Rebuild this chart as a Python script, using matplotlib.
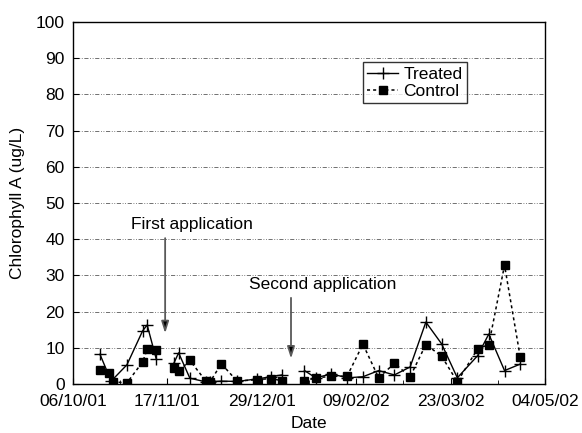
"""
Chlorophyll A in treated vs control ponds, Oct 2001 - May 2002.
"""

import numpy as np
import matplotlib
matplotlib.use("Agg")
import matplotlib.pyplot as plt
import matplotlib.dates as mdates

plt.rcParams['font.family'] = ['Liberation Sans', 'DejaVu Sans']

# sampling dates (blank entries = application days, no sample -> gap in line)
treated_dates = ['2001-10-18', '2001-10-23', '2001-10-30', '2001-11-06', '2001-11-08',
                 '2001-11-12', '2001-11-16', '2001-11-20', '2001-11-22', '2001-11-27',
                 '2001-12-04', '2001-12-06', '2001-12-11', '2001-12-18', '2001-12-27',
                 '2002-01-02', '2002-01-07', '2002-01-11', '2002-01-17', '2002-01-22',
                 '2002-01-29', '2002-02-05', '2002-02-12', '2002-02-19', '2002-02-26',
                 '2002-03-05', '2002-03-12', '2002-03-19', '2002-03-26', '2002-04-04',
                 '2002-04-09', '2002-04-16', '2002-04-23']
treated_vals = [8.2, 0.8, 5.3, 14.7, 16.3,
                7.0, np.nan, 5.9, 8.6, 1.6,
                0.6, 0.6, 0.8, 0.7, 1.4,
                2.0, 2.5, np.nan, 3.7, 1.7,
                2.8, 1.7, 2.0, 3.7, 2.5,
                4.7, 17.1, 11.1, 1.7, 7.8,
                13.8, 3.7, 5.5]

control_dates = ['2001-10-18', '2001-10-22', '2001-10-24', '2001-10-30', '2001-11-06',
                 '2001-11-08', '2001-11-12', '2001-11-16', '2001-11-20', '2001-11-22',
                 '2001-11-27', '2001-12-04', '2001-12-06', '2001-12-11', '2001-12-18',
                 '2001-12-27', '2002-01-02', '2002-01-07', '2002-01-11', '2002-01-17',
                 '2002-01-22', '2002-01-29', '2002-02-05', '2002-02-12', '2002-02-19',
                 '2002-02-26', '2002-03-05', '2002-03-12', '2002-03-19', '2002-03-26',
                 '2002-04-04', '2002-04-09', '2002-04-16', '2002-04-23']
control_vals = [3.9, 3.0, 0.6, 0.3, 6.1,
                9.6, 9.5, np.nan, 4.3, 3.5,
                6.5, 0.9, 0.6, 5.6, 0.8,
                1.2, 1.5, 0.9, np.nan, 0.8,
                1.7, 2.1, 2.2, 11.0, 1.7,
                5.7, 2.0, 10.9, 7.7, 0.6,
                9.7, 10.9, 32.8, 7.4]

tick_dates = ['2001-10-06', '2001-11-17', '2001-12-29', '2002-02-09', '2002-03-23', '2002-05-04']

# annotations: (label, arrow date, arrow top, arrow tip, text date, text y)
applications = [
    ('First application', '2001-11-16', 40.3, 14.0, '2001-11-28', 44.2),
    ('Second application', '2002-01-11', 23.8, 7.0, '2002-01-25', 27.6),
]


def to_dates(lst):
    return np.array(lst, dtype='datetime64[D]')


fig = plt.figure(figsize=(5.82, 4.33), dpi=100)
ax = fig.add_axes([0.1254, 0.1132, 0.8110, 0.8358])

# dash-dot-dot grid
for yv in range(10, 100, 10):
    ax.axhline(yv, color='0.35', lw=0.6, ls=(0, (5, 2, 1, 2, 1, 2)), zorder=0)

ax.plot(to_dates(treated_dates), treated_vals, color='black', lw=1.0,
        marker='+', markersize=8, markeredgewidth=1.0, label='Treated')
ax.plot(to_dates(control_dates), control_vals, color='black', lw=1.1, ls=(0, (2, 2)),
        marker='s', markersize=6, label='Control')

for label, adate, ytop, ytip, tdate, ty in applications:
    ad = np.datetime64(adate)
    ax.annotate('', xy=(ad, ytip), xytext=(ad, ytop),
                arrowprops=dict(arrowstyle='-|>,head_width=0.22,head_length=0.7',
                                ec='0.35', fc='black', lw=1.3, shrinkA=0, shrinkB=0))
    ax.text(np.datetime64(tdate), ty, label, ha='center', va='center', fontsize=12.5)

ax.set_xlim(np.datetime64('2001-10-06'), np.datetime64('2002-05-04'))
ax.set_ylim(0, 100)
ax.set_yticks(range(0, 101, 10))
ax.set_xticks(to_dates(tick_dates))
ax.xaxis.set_major_formatter(mdates.DateFormatter('%d/%m/%y'))
ax.set_xticks(to_dates(tick_dates)[:-1] + np.timedelta64(21, 'D'), minor=True)
ax.tick_params(axis='both', which='major', labelsize=12.5, direction='in', length=4)
ax.tick_params(axis='y', pad=6)
ax.tick_params(axis='x', pad=7)
ax.tick_params(axis='x', which='minor', direction='in', length=3)
for s in ax.spines.values():
    s.set_linewidth(1.0)

ax.set_xlabel('Date', fontsize=12.5, labelpad=5)
ax.set_ylabel('Chlorophyll A (ug/L)', fontsize=12.5, labelpad=8)

leg = ax.legend(loc='upper left', bbox_to_anchor=(0.614, 0.889), fontsize=12.5,
                frameon=True, fancybox=False, edgecolor='black', borderaxespad=0,
                handlelength=1.8, handletextpad=0.3, borderpad=0.25, labelspacing=0.1)
leg.get_frame().set_linewidth(1.0)

fig.savefig('out.png', dpi=100)
